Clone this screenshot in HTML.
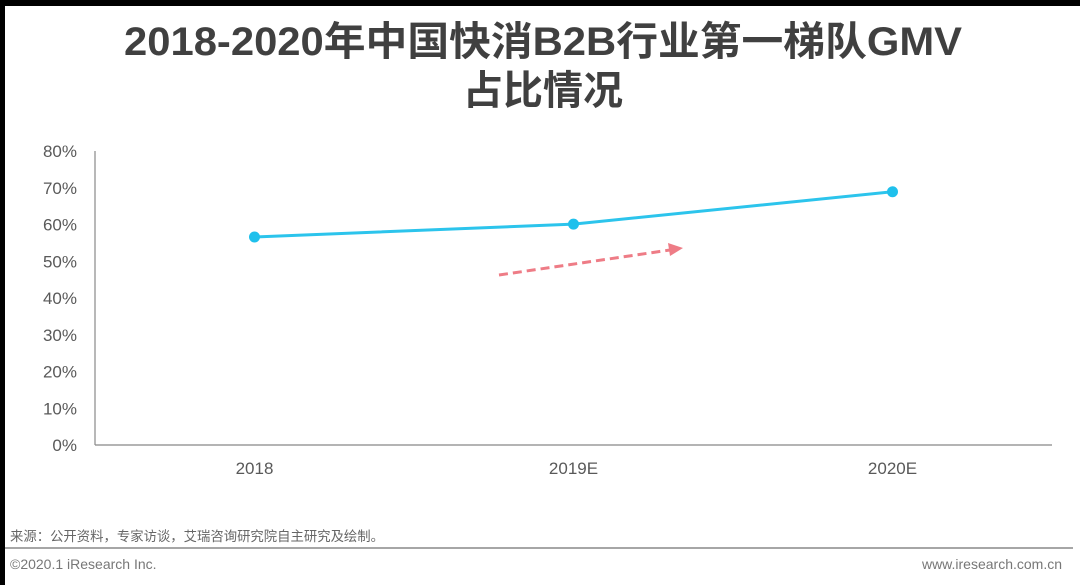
<!DOCTYPE html>
<html><head><meta charset="utf-8"><style>
html,body{margin:0;padding:0;background:#fff;}
svg{display:block;font-family:"Liberation Sans","Noto Sans CJK SC",sans-serif;}
</style></head><body>
<svg id="chart" width="1080" height="585" viewBox="0 0 1080 585">
<rect x="0" y="0" width="1080" height="6" fill="#000"/>
<rect x="0" y="0" width="5" height="585" fill="#000"/>
<text x="543" y="55" text-anchor="middle" font-size="40" font-weight="bold" fill="#404040" textLength="838" lengthAdjust="spacingAndGlyphs">2018-2020年中国快消B2B行业第一梯队GMV</text>
<text x="543" y="104" text-anchor="middle" font-size="40" font-weight="bold" fill="#404040">占比情况</text>
<g id="yaxis"></g>
<g id="xaxis"></g>
<g id="series"></g>
<g>
<line x1="499" y1="275" x2="670" y2="250" stroke="#ee7c86" stroke-width="3" stroke-dasharray="9,5"/>
<polygon points="683,248 668,243 670,256" fill="#ee7c86"/>
</g>
<text x="10" y="541" font-size="13.5" fill="#666" textLength="374" lengthAdjust="spacingAndGlyphs">来源：公开资料，专家访谈，艾瑞咨询研究院自主研究及绘制。</text>
<line x1="5" y1="548" x2="1073" y2="548" stroke="#888" stroke-width="1.5"/>
<text x="10" y="569" font-size="14" fill="#777">©2020.1 iResearch Inc.</text>
<text x="1062" y="569" text-anchor="end" font-size="14" fill="#777">www.iresearch.com.cn</text>
</svg>
<script>
const categories=["2018","2019E","2020E"];
const values=[0.566,0.601,0.689];
const yTicks=[0,0.1,0.2,0.3,0.4,0.5,0.6,0.7,0.8];
const yTickLabels=["0%","10%","20%","30%","40%","50%","60%","70%","80%"];
const NS="http://www.w3.org/2000/svg";
const x0=95,x1=1052,y0=445,y1=151;
const yScale=v=>y0-(v/0.8)*(y0-y1);
const band=(x1-x0)/categories.length;
const xScale=i=>x0+band*(i+0.5);
function mk(tag,attrs,parent,text){const e=document.createElementNS(NS,tag);for(const k in attrs)e.setAttribute(k,attrs[k]);if(text!=null)e.textContent=text;parent.appendChild(e);return e;}
const ya=document.getElementById('yaxis'),xa=document.getElementById('xaxis'),sg=document.getElementById('series');
const yl=mk('line',{x1:x0,y1:y1,x2:x0,y2:y0,stroke:'#888','stroke-width':1.2},ya);


yTicks.forEach((t,i)=>{const e=mk('text',{x:77,y:yScale(t)+6,'text-anchor':'end','font-size':17,fill:'#595959'},ya,yTickLabels[i]);

});
const xl=mk('line',{x1:x0,y1:y0,x2:x1,y2:y0,stroke:'#888','stroke-width':1.2},xa);


categories.forEach((c,i)=>{const e=mk('text',{x:xScale(i),y:474,'text-anchor':'middle','font-size':17,fill:'#595959'},xa,c);

});
const pts=values.map((v,i)=>xScale(i)+','+yScale(v)).join(' ');
const pl=mk('polyline',{points:pts,fill:'none',stroke:'#2cc4ec','stroke-width':3},sg);


values.forEach((v,i)=>{const c=mk('circle',{cx:xScale(i),cy:yScale(v),r:5.5,fill:'#1fc0ec'},sg);

});
</script>
</body></html>
